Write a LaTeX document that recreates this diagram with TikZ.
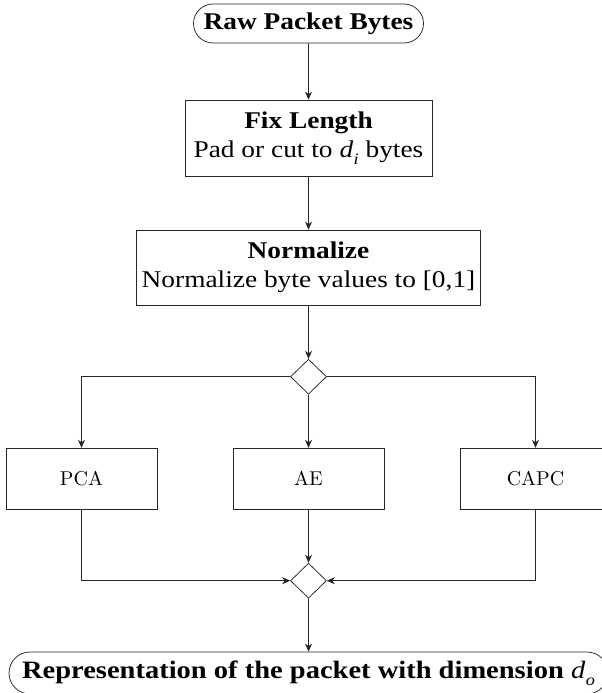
\documentclass[tikz,border=0pt]{standalone}
\usepackage{fontspec}
\setmainfont{Liberation Serif}[FakeStretch=1.14]
\newfontfamily\lmfont{lmroman10-regular.otf}
\usetikzlibrary{shapes.geometric,shapes.misc,arrows.meta}

% italic variable with a lowered italic index
\newcommand\dsub[1]{{\normalfont\itshape d}\kern0.5pt\raisebox{-0.28em}{\fontsize{16}{16}\selectfont\normalfont\itshape #1}}

\tikzset{
  line/.style={line width=0.75pt, draw=black!85},
  arr/.style={line, -{Stealth[length=8pt, width=7pt, inset=2.5pt]}},
  term/.style={rounded rectangle, line, inner sep=2pt,
               font=\fontsize{24}{29}\selectfont\bfseries},
  proc/.style={rectangle, line, align=center, inner sep=2pt,
               font=\fontsize{24}{29}\selectfont},
  alg/.style={rectangle, line, minimum width=151pt, minimum height=61pt,
              font=\lmfont\fontsize{20}{24}\selectfont},
  junc/.style={diamond, line, minimum width=36pt, minimum height=35pt, inner sep=0pt},
}

\begin{document}
\begin{tikzpicture}[x=1pt, y=-1pt]
  \useasboundingbox (0,0) rectangle (602,693);
  \clip (0,0) rectangle (602,693);

  % pipeline stages
  \node[term, minimum width=234pt, minimum height=39pt] (raw) at (308.5,23.5) {Raw Packet Bytes};
  \node[proc, minimum width=247pt, minimum height=76pt] (fix) at (308.5,138)
    {\textbf{Fix Length}\\Pad or cut to \dsub{i} bytes};
  \node[proc, minimum width=344pt, minimum height=75pt] (norm) at (308.5,267.5)
    {\textbf{Normalize}\\Normalize byte values to [0,1]};

  % branching into the three reduction methods
  \node[junc] (split) at (308.5,376.7) {};
  \node[alg] (pca)  at (81.5,478.7)  {PCA};
  \node[alg] (ae)   at (308.5,478.7) {AE};
  \node[alg] (capc) at (535.5,478.7) {CAPC};
  \node[junc] (merge) at (308.5,580.7) {};

  \node[term, minimum width=603pt, minimum height=42pt,
        font=\fontsize{25}{29}\selectfont\bfseries] (out) at (308.5,673)
    {Representation of the packet with dimension \dsub{o}};

  % connectors
  \draw[arr] (raw) -- (fix);
  \draw[arr] (fix) -- (norm);
  \draw[arr] (norm) -- (split);
  \draw[arr] (split.west) -| (pca);
  \draw[arr] (split) -- (ae);
  \draw[arr] (split.east) -| (capc);
  \draw[arr] (pca) |- (merge.west);
  \draw[arr] (ae) -- (merge);
  \draw[arr] (capc) |- (merge.east);
  \draw[arr] (merge) -- (out);
\end{tikzpicture}
\end{document}
